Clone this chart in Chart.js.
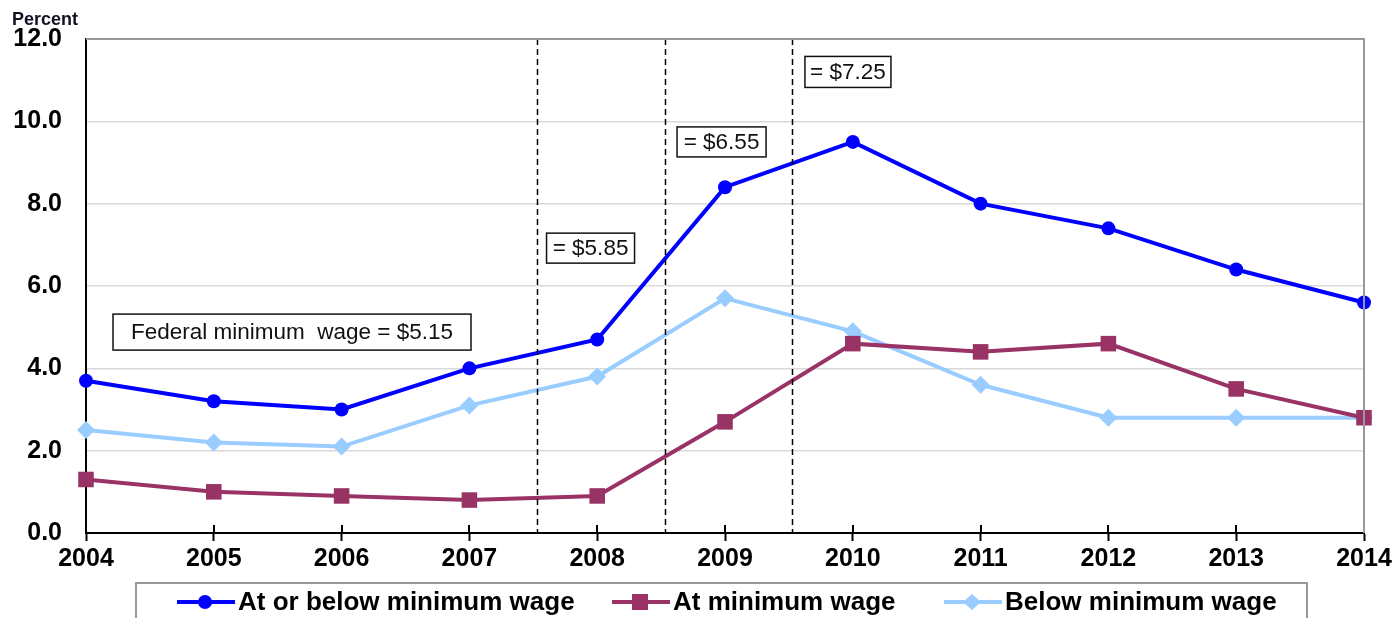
<!DOCTYPE html>
<html>
<head>
<meta charset="utf-8">
<script src="https://cdn.jsdelivr.net/npm/chart.js@4/dist/chart.umd.min.js"></script>
<style>
    body { margin: 0; background: #fff; }
    #wrap { width: 1397px; height: 618px; position: relative; }
</style>
</head>
<body>
<div id="wrap"><canvas id="myChart"></canvas></div>
<script>
const years = ['2004', '2005', '2006', '2007', '2008', '2009', '2010', '2011', '2012', '2013', '2014'];
const atOrBelow = [3.7, 3.2, 3.0, 4.0, 4.7, 8.4, 9.5, 8.0, 7.4, 6.4, 5.6];
const atMinimum = [1.3, 1.0, 0.9, 0.8, 0.9, 2.7, 4.6, 4.4, 4.6, 3.5, 2.8];
const belowMinimum = [2.5, 2.2, 2.1, 3.1, 3.8, 5.7, 4.9, 3.6, 2.8, 2.8, 2.8];
const seriesNames = ['At or below minimum wage', 'At minimum wage', 'Below minimum wage'];
const wageLabels = ['Federal minimum  wage = $5.15', '= $5.85', '= $6.55', '= $7.25'];
// wage changes happen between these year indexes
const wageChangeAt = [3.53, 4.53, 5.525];

const FONT = "'Liberation Sans', Arial, sans-serif";

// where the wage boxes sit (x as year index, y in percent)
const boxAnchors = [
    { x: 1.612, y: 4.88, w: 358, h: 36 },
    { x: 3.948, y: 6.92, w: 88, h: 30 },
    { x: 4.973, y: 9.5, w: 89, h: 30 },
    { x: 5.962, y: 11.2, w: 86, h: 31 }
];

const extrasPlugin = {
    id: 'extras',
    afterDatasetsDraw(chart) {
        const { ctx, chartArea, scales } = chart;
        ctx.save();
        // dashed lines for wage changes
        ctx.strokeStyle = '#000';
        ctx.lineWidth = 1.5;
        ctx.setLineDash([6, 4]);
        wageChangeAt.forEach(function (v) {
            const x = Math.round(scales.x.getPixelForValue(v)) + 0.5;
            ctx.beginPath();
            ctx.moveTo(x, chartArea.top);
            ctx.lineTo(x, chartArea.bottom);
            ctx.stroke();
        });
        ctx.setLineDash([]);
        // boxes
        ctx.font = "22.5px " + FONT;
        ctx.textAlign = 'center';
        ctx.textBaseline = 'middle';
        wageLabels.forEach(function (label, i) {
            const a = boxAnchors[i];
            const cx = scales.x.getPixelForValue(a.x);
            const cy = scales.y.getPixelForValue(a.y);
            ctx.fillStyle = '#fff';
            ctx.fillRect(cx - a.w / 2, cy - a.h / 2, a.w, a.h);
            ctx.strokeStyle = '#111';
            ctx.lineWidth = 1.5;
            ctx.strokeRect(cx - a.w / 2, cy - a.h / 2, a.w, a.h);
            ctx.fillStyle = '#111';
            ctx.fillText(label, cx, cy + 1);
        });
        // inward tick marks on the x axis
        ctx.strokeStyle = '#000';
        ctx.lineWidth = 2;
        years.forEach(function (y, i) {
            const x = Math.round(scales.x.getPixelForValue(i));
            ctx.beginPath();
            ctx.moveTo(x, chartArea.bottom);
            ctx.lineTo(x, chartArea.bottom - 8);
            ctx.stroke();
        });
        ctx.restore();
    },
    afterDraw(chart) {
        const { ctx, chartArea } = chart;
        ctx.save();
        // "Percent" label
        ctx.font = "bold 18px " + FONT;
        ctx.fillStyle = '#111122';
        ctx.textAlign = 'left';
        ctx.textBaseline = 'middle';
        ctx.fillText('Percent', 12, 20);

        // legend box
        ctx.strokeStyle = '#999';
        ctx.lineWidth = 2;
        ctx.strokeRect(136, 583, 1171, 50);
        const items = [
            { x: 177, color: '#0000ff', style: 'circle' },
            { x: 612, color: '#993366', style: 'rect' },
            { x: 944, color: '#99ccff', style: 'rectRot' }
        ];
        const y = 602;
        ctx.font = "bold 26px " + FONT;
        ctx.textBaseline = 'middle';
        items.forEach(function (it, i) {
            ctx.strokeStyle = it.color;
            ctx.lineWidth = 4;
            ctx.beginPath();
            ctx.moveTo(it.x, y);
            ctx.lineTo(it.x + 58, y);
            ctx.stroke();
            ctx.fillStyle = it.color;
            const mx = it.x + 28;
            if (it.style === 'circle') {
                ctx.beginPath();
                ctx.arc(mx, y, 7, 0, Math.PI * 2);
                ctx.fill();
            } else if (it.style === 'rect') {
                ctx.fillRect(mx - 8, y - 8, 16, 16);
            } else {
                ctx.beginPath();
                ctx.moveTo(mx, y - 8);
                ctx.lineTo(mx + 9, y);
                ctx.lineTo(mx, y + 8);
                ctx.lineTo(mx - 9, y);
                ctx.closePath();
                ctx.fill();
            }
            ctx.fillStyle = '#000';
            ctx.fillText(seriesNames[i], it.x + 61, y + 1);
        });

        // top and right frame
        ctx.strokeStyle = '#999';
        ctx.lineWidth = 2;
        ctx.beginPath();
        ctx.moveTo(chartArea.left, chartArea.top);
        ctx.lineTo(chartArea.right, chartArea.top);
        ctx.lineTo(chartArea.right, chartArea.bottom);
        ctx.stroke();
        ctx.restore();
    }
};

function makeDataset(label, data, color, pointStyle, radius) {
    return {
        label: label,
        data: data,
        borderColor: color,
        backgroundColor: color,
        borderWidth: 4,
        pointStyle: pointStyle,
        pointRadius: radius,
        pointHoverRadius: radius,
        pointBorderWidth: 0,
        tension: 0,
        clip: false
    };
}

const ctx = document.getElementById('myChart');
new Chart(ctx, {
    type: 'line',
    data: {
        labels: years,
        datasets: [
            makeDataset(seriesNames[0], atOrBelow, '#0000ff', 'circle', 7),
            makeDataset(seriesNames[1], atMinimum, '#993366', 'rect', 11),
            makeDataset(seriesNames[2], belowMinimum, '#99ccff', 'rectRot', 9)
        ]
    },
    options: {
        responsive: true,
        maintainAspectRatio: false,
        animation: false,
        layout: { padding: { top: 39, right: 33, bottom: 40, left: 0 } },
        plugins: {
            legend: { display: false },
            tooltip: { enabled: false }
        },
        scales: {
            x: {
                offset: false,
                grid: {
                    display: true,
                    drawOnChartArea: false,
                    drawTicks: true,
                    tickLength: 8,
                    tickColor: '#000',
                    tickWidth: 2
                },
                border: { color: '#000', width: 2 },
                ticks: {
                    color: '#000',
                    padding: 3,
                    maxRotation: 0,
                    autoSkip: false,
                    font: { family: FONT, size: 25, weight: 'bold' }
                },
                afterFit: function (scale) { scale.height = 45; }
            },
            y: {
                min: 0,
                max: 12,
                ticks: {
                    stepSize: 2,
                    color: '#000',
                    padding: 24,
                    callback: (v) => v.toFixed(1),
                    font: { family: FONT, size: 25, weight: 'bold' }
                },
                grid: { color: '#d9d9d9', lineWidth: 1.5, drawTicks: false },
                border: { color: '#000', width: 2 },
                afterFit: function (scale) { scale.width = 86; }
            }
        }
    },
    plugins: [extrasPlugin]
});
</script>
</body>
</html>
